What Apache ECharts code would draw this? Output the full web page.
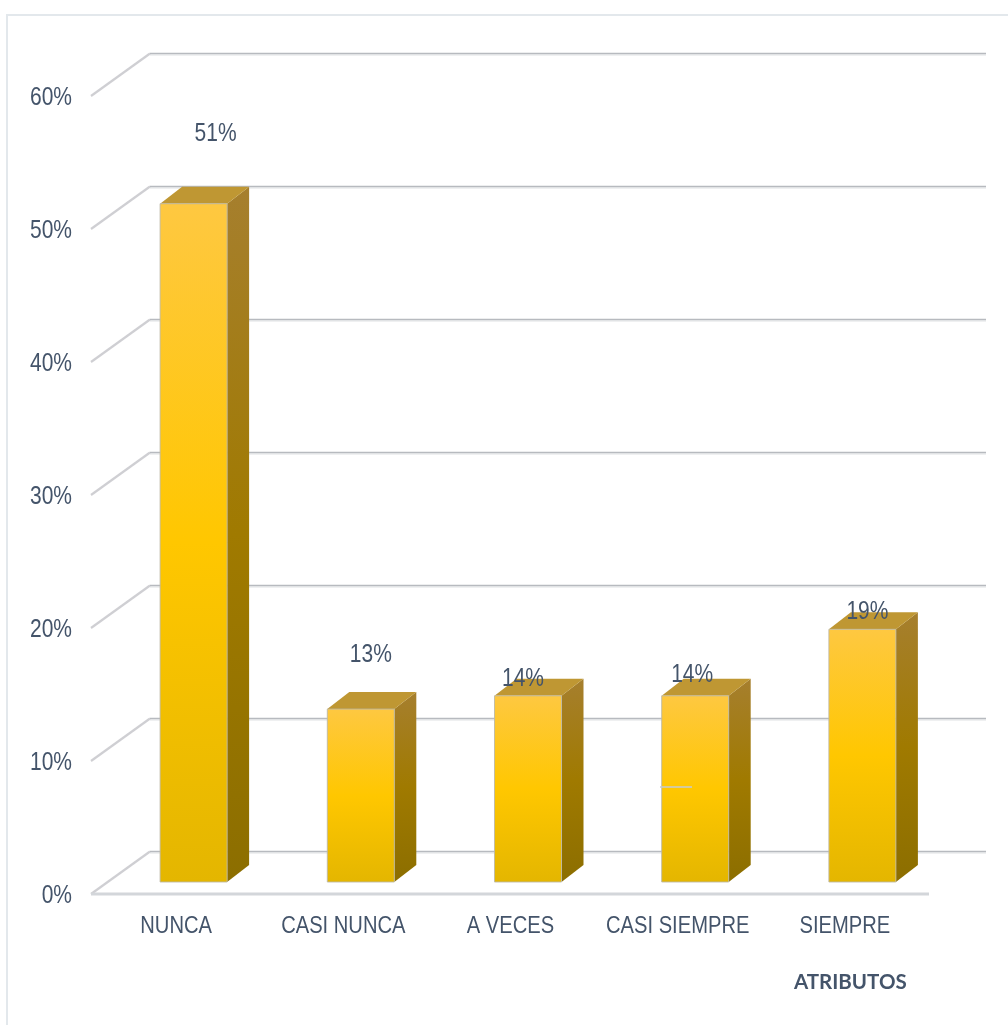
<!DOCTYPE html>
<html>
<head>
<meta charset="utf-8">
<title>Atributos</title>
<style>
  html, body { margin: 0; padding: 0; background: #fff; }
  #chart { width: 1008px; height: 1025px; }
</style>
<script src="https://cdn.jsdelivr.net/npm/echarts@6/dist/echarts.min.js"></script>
</head>
<body>
<div id="chart"></div>
<script>
const categories = ['NUNCA', 'CASI NUNCA', 'A VECES', 'CASI SIEMPRE', 'SIEMPRE'];
const percentages = [51, 13, 14, 14, 19];
const gridValues = [0, 10, 20, 30, 40, 50, 60];

// Perspective of the box: how far the back wall and the bars sit from the front plane.
const WALL = { dx: 57, dy: -42.5 };
const BAR_START = { dx: 17, dy: -12 };
const BAR_DEPTH = { dx: 22, dy: -17 };
const BAR_WIDTH = 67;
// Where each value label sits relative to the top centre of its bar's front face.
const LABEL_SHIFT = [[22, -70], [10, -54], [-5, -17], [-3, -21], [5, -17]];

const TEXT_COLOR = '#44546A';
const FONT = '"Liberation Sans", Arial, sans-serif';
// All the thin labels share one horizontal squeeze, so they keep their tall proportions.
const SQUEEZE = 0.84;

const vGrad = (stops) => ({
  type: 'linear', x: 0, y: 0, x2: 0, y2: 1,
  colorStops: stops.map(([offset, color]) => ({ offset, color }))
});

const squeezedText = (x, y, text, size, align) => ({
  type: 'text', x, y, scaleX: SQUEEZE,
  style: { text, fill: TEXT_COLOR, font: size + 'px ' + FONT, align, verticalAlign: 'middle' }
});

function renderGridLine(params, api) {
  const rect = params.coordSys;
  const y = api.coord([0, api.value(1)])[1];
  const left = rect.x;
  const right = rect.x + rect.width;
  const wallY = y + WALL.dy;
  const children = [
    { type: 'line', shape: { x1: left - 2, y1: y, x2: left + WALL.dx, y2: wallY },
      style: { stroke: '#cfcfd3', lineWidth: 2.2 } },
    { type: 'line', shape: { x1: left + WALL.dx, y1: wallY + 1.5, x2: right + WALL.dx, y2: wallY + 1.5 },
      style: { stroke: '#dfe1e4', lineWidth: 1 } },
    { type: 'line', shape: { x1: left + WALL.dx, y1: wallY, x2: right + WALL.dx, y2: wallY },
      style: { stroke: '#b7babf', lineWidth: 1.5 } },
    squeezedText(left - 21, y + 2.5, api.value(1) + '%', 25, 'right')
  ];
  if (api.value(1) === 0) {
    children.push({ type: 'line', shape: { x1: left - 2, y1: y, x2: right, y2: y },
      style: { stroke: '#d3d6da', lineWidth: 3 } });
  }
  return { type: 'group', children };
}

function renderBar(params, api) {
  const idx = api.value(0);
  const base = api.coord([idx, 0]);
  const top = api.coord([idx, api.value(1)]);
  const x0 = base[0] + BAR_START.dx - BAR_WIDTH / 2;
  const x1 = x0 + BAR_WIDTH;
  const yb = base[1] + BAR_START.dy;
  const yt = top[1] + BAR_START.dy;
  const d = BAR_DEPTH;
  const edge = 'rgba(190,185,165,0.9)';
  return {
    type: 'group',
    children: [
      { type: 'polygon',
        shape: { points: [[x1, yt], [x1 + d.dx, yt + d.dy], [x1 + d.dx, yb + d.dy], [x1, yb]] },
        style: { fill: vGrad([[0, '#A67F2E'], [0.5, '#A07A00'], [1, '#8C6E00']]) } },
      { type: 'polygon',
        shape: { points: [[x0, yt], [x0 + d.dx, yt + d.dy], [x1 + d.dx, yt + d.dy], [x1, yt]] },
        style: { fill: '#BF9733' } },
      { type: 'rect',
        shape: { x: x0, y: yt, width: BAR_WIDTH, height: yb - yt },
        style: { fill: vGrad([[0, '#FEC841'], [0.5, '#FFC700'], [1, '#E4B600']]), stroke: edge, lineWidth: 1 } }
    ]
  };
}

function renderBarText(params, api) {
  const idx = api.value(0);
  const base = api.coord([idx, 0]);
  const top = api.coord([idx, api.value(1)]);
  const shift = LABEL_SHIFT[idx];
  return {
    type: 'group',
    children: [
      squeezedText(base[0] + BAR_START.dx + shift[0], top[1] + BAR_START.dy + shift[1], api.value(1) + '%', 25, 'center'),
      squeezedText(base[0] - 0.5, base[1] + 32, categories[idx], 24, 'center')
    ]
  };
}

const chart = echarts.init(document.getElementById('chart'), null, { renderer: 'canvas' });
chart.setOption({
  animation: false,
  backgroundColor: '#fff',
  title: {
    text: 'ATRIBUTOS',
    left: 794,
    top: 972,
    padding: 0,
    textStyle: { fontFamily: 'Lato, sans-serif', fontWeight: 'bold', fontSize: 20.5, color: TEXT_COLOR }
  },
  graphic: [
    // Outer frame around the plot, open at the right and bottom
    { type: 'polyline', z: -1, shape: { points: [[7, 1025], [7, 15], [1008, 15]] },
      style: { stroke: '#e3e8ec', lineWidth: 2, fill: null } },
    // Short stray rule across the fourth bar
    { type: 'line', z: 50, shape: { x1: 660, y1: 787, x2: 692, y2: 787 },
      style: { stroke: '#c4cbd2', lineWidth: 1.5 } }
  ],
  grid: { left: 93, top: 96, width: 836, height: 798 },
  xAxis: {
    type: 'category',
    data: categories,
    axisLine: { show: false },
    axisTick: { show: false },
    splitLine: { show: false },
    axisLabel: { show: false }
  },
  yAxis: {
    type: 'value',
    min: 0,
    max: 60,
    interval: 10,
    axisLine: { show: false },
    axisTick: { show: false },
    splitLine: { show: false },
    axisLabel: { show: false }
  },
  series: [
    { type: 'custom', name: 'grid', z: 1, silent: true, renderItem: renderGridLine,
      data: gridValues.map((v) => [0, v]) },
    { type: 'custom', name: 'bars', z: 2, renderItem: renderBar,
      data: percentages.map((v, i) => [i, v]) },
    { type: 'custom', name: 'labels', z: 3, silent: true, renderItem: renderBarText,
      data: percentages.map((v, i) => [i, v]) }
  ]
});
</script>
</body>
</html>
